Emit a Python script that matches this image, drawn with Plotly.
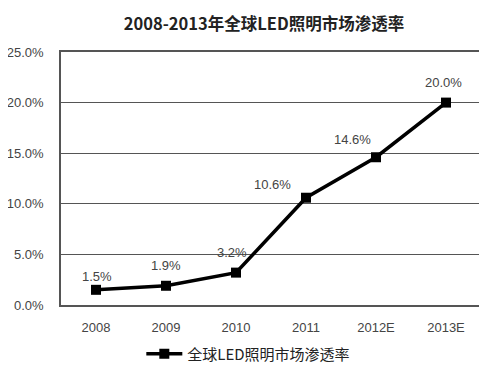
import plotly.graph_objects as go

years = ["2008", "2009", "2010", "2011", "2012E", "2013E"]
rates = [1.5, 1.9, 3.2, 10.6, 14.6, 20.0]
labels = ["1.5%", "1.9%", "3.2%", "10.6%", "14.6%", "20.0%"]
yticks = [0, 5, 10, 15, 20, 25]
yticklabels = ["0.0%", "5.0%", "10.0%", "15.0%", "20.0%", "25.0%"]
series_name = "全球LED照明市场渗透率"
title = "2008-2013年全球LED照明市场渗透率"

# label offsets in pixels (styling)
label_dx = [1, 0, -4, -34, -24, -3]
label_dy = [13, 20, 20, 13, 18, 20]

W, H = 479, 371  # page body has an 8px margin

fig = go.Figure()
fig.add_trace(go.Scatter(
    x=years, y=rates, mode="lines+markers",
    name=series_name,
    line=dict(color="black", width=3.5),
    marker=dict(symbol="square", size=10, color="black"),
))

# on a category axis, annotations are placed by category index
for i, (y, t, dx, dy) in enumerate(zip(rates, labels, label_dx, label_dy)):
    fig.add_annotation(x=i, y=y, text=t, showarrow=False, xshift=dx, yshift=dy,
                       xanchor="center", yanchor="middle",
                       font=dict(family="Liberation Sans, Arial", size=13, color="#444"))

fig.update_layout(
    width=W, height=H,
    margin=dict(l=53, r=6, t=44, b=74),
    paper_bgcolor="white", plot_bgcolor="white",
    title=dict(text="<b>" + title + "</b>", x=256 / W, xanchor="center",
               yref="container", y=1 - 16 / H, yanchor="middle",
               font=dict(family="Noto Sans CJK SC", size=16.5, color="#222")),
    showlegend=True,
    legend=dict(orientation="h", x=0.446, xanchor="center", y=-0.194, yanchor="middle",
                itemwidth=36,
                font=dict(family="Noto Sans CJK SC", size=15, color="#222")),
    font=dict(family="Liberation Sans, Arial", size=13, color="#444"),
)
fig.update_xaxes(type="category", categoryorder="array", categoryarray=years,
                 range=[-0.5, len(years) - 0.5],
                 showgrid=False, showline=True, mirror=True,
                 linecolor="#555", linewidth=1.5, ticks="", automargin=False,
                 ticklabelstandoff=10,
                 tickfont=dict(size=13, color="#444"))
fig.update_yaxes(range=[0, 25], tickvals=yticks, ticktext=yticklabels,
                 showgrid=True, gridcolor="#555", gridwidth=1.2,
                 showline=True, mirror=True, linecolor="#555", linewidth=1.5,
                 zeroline=False, ticks="", ticklabelstandoff=13, automargin=False,
                 tickfont=dict(size=13, color="#444"))

fig.write_html("out.html")
